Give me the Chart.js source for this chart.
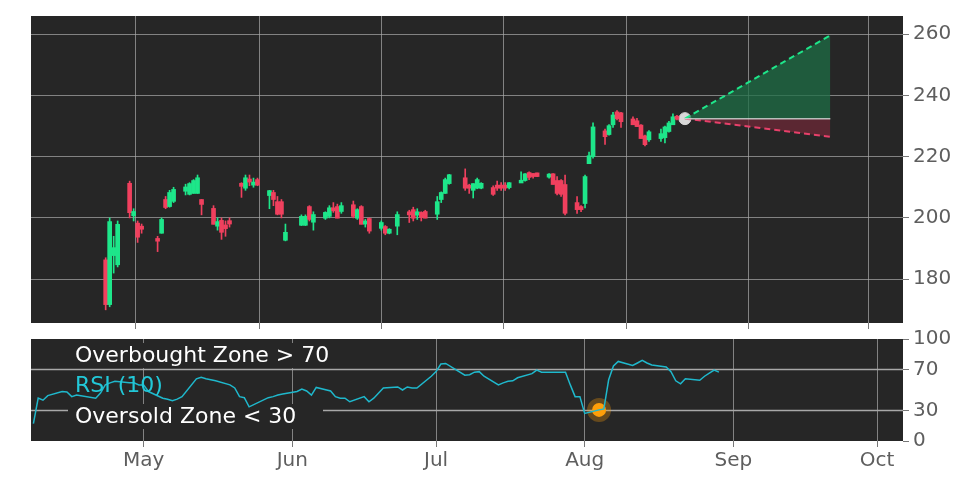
<!DOCTYPE html>
<html><head><meta charset="utf-8">
<script src="https://cdn.jsdelivr.net/npm/chart.js@4/dist/chart.umd.min.js"></script>
<style>body{margin:0;background:#fff}#w{position:relative;width:972px;height:486px}canvas{position:absolute;left:0;top:0}</style>
</head><body><div id="w"><canvas id="c1" width="972" height="486"></canvas><canvas id="c2" width="972" height="486"></canvas></div>
<script>
// day index: 0 = Apr 1
const days=[7,8,9,10,13,14,15,16,20,21,22,23,24,27,28,29,30,31,34,35,36,37,38,41,42,43,44,45,48,49,50,51,52,56,57,58,59,62,63,64,65,66,69,70,71,72,73,76,77,78,80,83,84,85,86,87,90,91,92,93,97,98,99,100,101,104,105,106,107,108,111,112,113,114,115,118,119,120,121,122,125,126,127,128,129,132,133,134,135,136,139,140,141,142,143,146,147,148,149,150];
const opens=[186,172,188,185,211,201,198,197,193,195.3,205.7,204,205.7,209,208,208.3,208.3,205.7,202.8,197.6,198.9,197.4,198.8,211,210,212.4,211,212.2,207.6,208,205,205,193,197.9,197.9,203.4,198.9,200.2,200.8,203,203.4,202.4,204,200.2,203.4,198.3,199.5,196.9,196.9,195.3,197.6,201.7,202.4,201.2,201.5,201.8,201.5,206.3,208.3,211.5,212.8,210.4,209.3,210,210,209.6,210.4,210.4,210.4,210.2,211.7,212.5,214.5,214.2,214.4,213.6,214.1,211.9,211.9,210.6,204.7,203.4,205,218,220.3,228.1,227.5,230.7,234.3,234,232,231.4,230,226.5,225.8,226.2,226.5,228.5,230.7,232.9];
const closes=[172,198.5,190,197.6,202,201.8,194,196.6,192.7,199.2,203.7,208,209,209.8,210.9,211.9,212.8,204.7,198.2,198.5,195.6,196.8,198.3,210.6,212.8,212,211.4,211,208.6,206.3,201.5,201.5,195,200.2,200.2,199.8,200.8,201.5,203,202.6,200.2,203.7,200.8,202.4,198.2,198.7,196,198.2,195.3,196,200.8,201.3,200.2,201.7,200.5,200.2,205,208,212.2,213.8,210,210,210.9,212.2,211,208,210,210,210,211.2,212,214.1,213.5,213.8,213.8,214,211.2,208.3,208,201.8,203,203,213.2,220,229.4,226.8,229.8,233.3,232.7,231.7,230.7,230.1,226.2,224.2,227.8,227.2,229.4,230.7,232.7,232.5];
const highs=[187,200,194,199,212,203,199,198,194,200,207,209,210,211,211.5,212.5,214,206,204,200,200,199,200,211.5,214,214,213,213,209,209,207,206,198,201,201,204,202,202,204,205,204.5,205,205.5,203,204,199.5,200,199,197.5,196.5,202,202.5,203.5,203,202,202.5,207,208.5,213,214.2,216,211,211.2,213,211.5,210.5,212,211.5,211.5,211.5,215,214.5,215,214.5,214.6,214.5,214.5,213.5,212.5,214,207,204,214,221.5,231,229,230.5,234.5,235,234.5,233,232.5,230.5,227,228.5,229,230,231.5,234,233.5];
const lows=[170,171,182,184,200,199,192,195,189,195,203,203.5,205,207.5,207.5,208,208,201,198,196,193,194,197,206.7,209,210.5,210,210.5,203,204,201,200,192.5,197.5,197.5,199,196,199.5,200,201.8,200,201.5,200,199.5,198,197,195,196,194.5,194.8,194.5,198.5,199,199.5,199,200,199.5,205,208,211,209,208,206.5,209.5,209.5,207.3,209,209,209,209.5,211.5,212,212.5,213,213.5,213,211,207.5,207,201,201.5,202,203.3,217.7,219.5,224,227,229.5,232,229.5,230.5,229.8,226,223.5,225,225,224.5,228,230.5,232];
const rsi=[17,42,40,44.5,48.5,48,43.5,45,42,47,55,57,58.5,57,57,55,55,48.5,42,41,39.5,41,43.5,61,62.5,61,60,59,55,52,43.5,42.5,33.5,42.5,43.5,45,46,48.5,51,49,45,52.5,49,43.5,42,42,38.5,43.5,38.5,42,52,53,50,53,52,52,63.5,68,75.5,76,64.5,65,67.5,68,63.5,55,57,58.5,59,62,66,69.5,67.5,67.5,67.5,67.5,55,43.5,43.5,27,30.5,31.5,60,73.5,78,74,76.5,79,76.5,74.5,72.5,68,59,56,61,59.5,63.5,66.5,69.5,67.5];
const forecastDays=[152,188.4];
const forecastBase=[232.4,232.4];
const forecastUp=[232.4,259.6];
const forecastDown=[232.4,226.5];
const signalDay=125, signalRsi=30.5;
const monthDays=[30,61,91,122,153,183];
const monthLabels=['May','Jun','Jul','Aug','Sep','Oct'];
const mainTicks=[180,200,220,240,260];
const rsiTicks=[0,30,70,100];

const GREEN='#1ee68a', RED='#f0405e', BG='#262626', TXT='#5e5e5e';
const FONT={family:'DejaVu Sans',size:20};
const colOf=i=>closes[i]>=opens[i]?GREEN:RED;
const bgPlugin={id:'bg',beforeDraw(c){const a=c.chartArea,x=c.ctx;x.save();x.fillStyle=BG;x.fillRect(a.left,a.top,a.right-a.left,a.bottom-a.top);x.restore();}};
const xBase={type:'linear',min:6.5,max:188.4,afterBuildTicks(s){s.ticks=monthDays.map(v=>({value:v}));},
  grid:{color:'rgba(170,170,170,0.7)',tickColor:'#777',tickLength:6,drawTicks:true},border:{display:false}};
const pts=(xs,ys)=>xs.map((d,i)=>({x:d,y:ys[i]}));

new Chart(document.getElementById('c1'),{
  data:{datasets:[
    {type:'line',data:pts(forecastDays,forecastBase),borderColor:'rgba(220,220,220,0.8)',borderWidth:1.5,pointRadius:0},
    {type:'line',data:pts(forecastDays,forecastUp),borderColor:'#1ee68a',borderDash:[6,4],borderWidth:2,pointRadius:0,fill:{target:0},backgroundColor:'rgba(30,110,70,0.75)'},
    {type:'line',data:pts(forecastDays,forecastDown),borderColor:'#e8406a',borderDash:[6,4],borderWidth:2,pointRadius:0,fill:{target:0},backgroundColor:'rgba(110,40,55,0.75)'},
    {type:'bar',data:days.map((d,i)=>({x:d,y:[lows[i],highs[i]]})),backgroundColor:days.map((d,i)=>colOf(i)),barThickness:1,grouped:false},
    {type:'bar',data:days.map((d,i)=>({x:d,y:[Math.min(opens[i],closes[i])-0.3,Math.max(opens[i],closes[i])+0.3]})),backgroundColor:days.map((d,i)=>colOf(i)),barThickness:4,grouped:false},
    {type:'scatter',data:[{x:forecastDays[0],y:forecastBase[0]}],pointRadius:6,backgroundColor:'#d8d8d8',borderColor:'#d8d8d8'}
  ]},
  options:{animation:false,responsive:false,events:[],
    layout:{padding:{left:31,top:15,right:0,bottom:157}},
    plugins:{legend:{display:false},tooltip:{enabled:false}},
    scales:{
      x:{...xBase,ticks:{display:false},afterFit(s){s.height=6;},grid:{...xBase.grid,color:'rgba(170,170,170,0.7)'},},
      y:{position:'right',min:165.7,max:265.9,afterBuildTicks(s){s.ticks=mainTicks.map(v=>({value:v}));},
        afterFit(s){s.width=69;},ticks:{color:TXT,font:FONT,padding:4},
        grid:{color:'rgba(170,170,170,0.7)',tickColor:'#777',tickLength:6},border:{display:false}}
    }},
  plugins:[bgPlugin,{id:'dash',beforeDatasetsDraw(c){}}]
});

const rsiText={id:'rsiText',afterDraw(c){const x=c.ctx,a=c.chartArea,ys=c.scales.y;x.save();
  x.font='22px DejaVu Sans';x.textBaseline='middle';
  const items=[['Overbought Zone > 70','#ffffff',356],['RSI (10)','#22c8d8',386],['Oversold Zone < 30','#ffffff',417]];
  items.forEach(([t,col,y])=>{x.fillStyle=col;x.fillText(t,75,y);});
  x.restore();}};
const rsiLines={id:'rsiLines',beforeDatasetsDraw(c){const x=c.ctx,a=c.chartArea,ys=c.scales.y;x.save();
  x.strokeStyle='#a8a8a8';x.lineWidth=1.5;
  [70,30].forEach(v=>{const y=ys.getPixelForValue(v);x.beginPath();x.moveTo(a.left,y);x.lineTo(a.right,y);x.stroke();});
  x.fillStyle=BG;x.fillRect(68,343,290,25);x.fillRect(68,404,255,25);
  x.restore();}};

new Chart(document.getElementById('c2'),{
  data:{datasets:[
    {type:'line',data:pts(days,rsi),borderColor:'#1fb8cc',borderWidth:1.5,pointRadius:0,tension:0},
    {type:'scatter',data:[{x:signalDay,y:signalRsi}],pointRadius:7,backgroundColor:'#ff9f0a',borderColor:'rgba(255,159,10,0.3)',borderWidth:10}
  ]},
  options:{animation:false,responsive:false,events:[],
    layout:{padding:{left:31,top:339,right:0,bottom:0}},
    plugins:{legend:{display:false},tooltip:{enabled:false}},
    scales:{
      x:{...xBase,afterFit(s){s.height=45;},ticks:{color:TXT,font:FONT,padding:2,callback:(v)=>monthLabels[monthDays.indexOf(v)]},
        grid:{...xBase.grid}},
      y:{position:'right',min:0,max:100,afterBuildTicks(s){s.ticks=rsiTicks.map(v=>({value:v}));},
        afterFit(s){s.width=69;},ticks:{color:TXT,font:FONT,padding:4},
        grid:{drawOnChartArea:false,tickColor:'#777',tickLength:6},border:{display:false}}
    }},
  plugins:[bgPlugin,rsiLines,rsiText]
});
</script></body></html>
